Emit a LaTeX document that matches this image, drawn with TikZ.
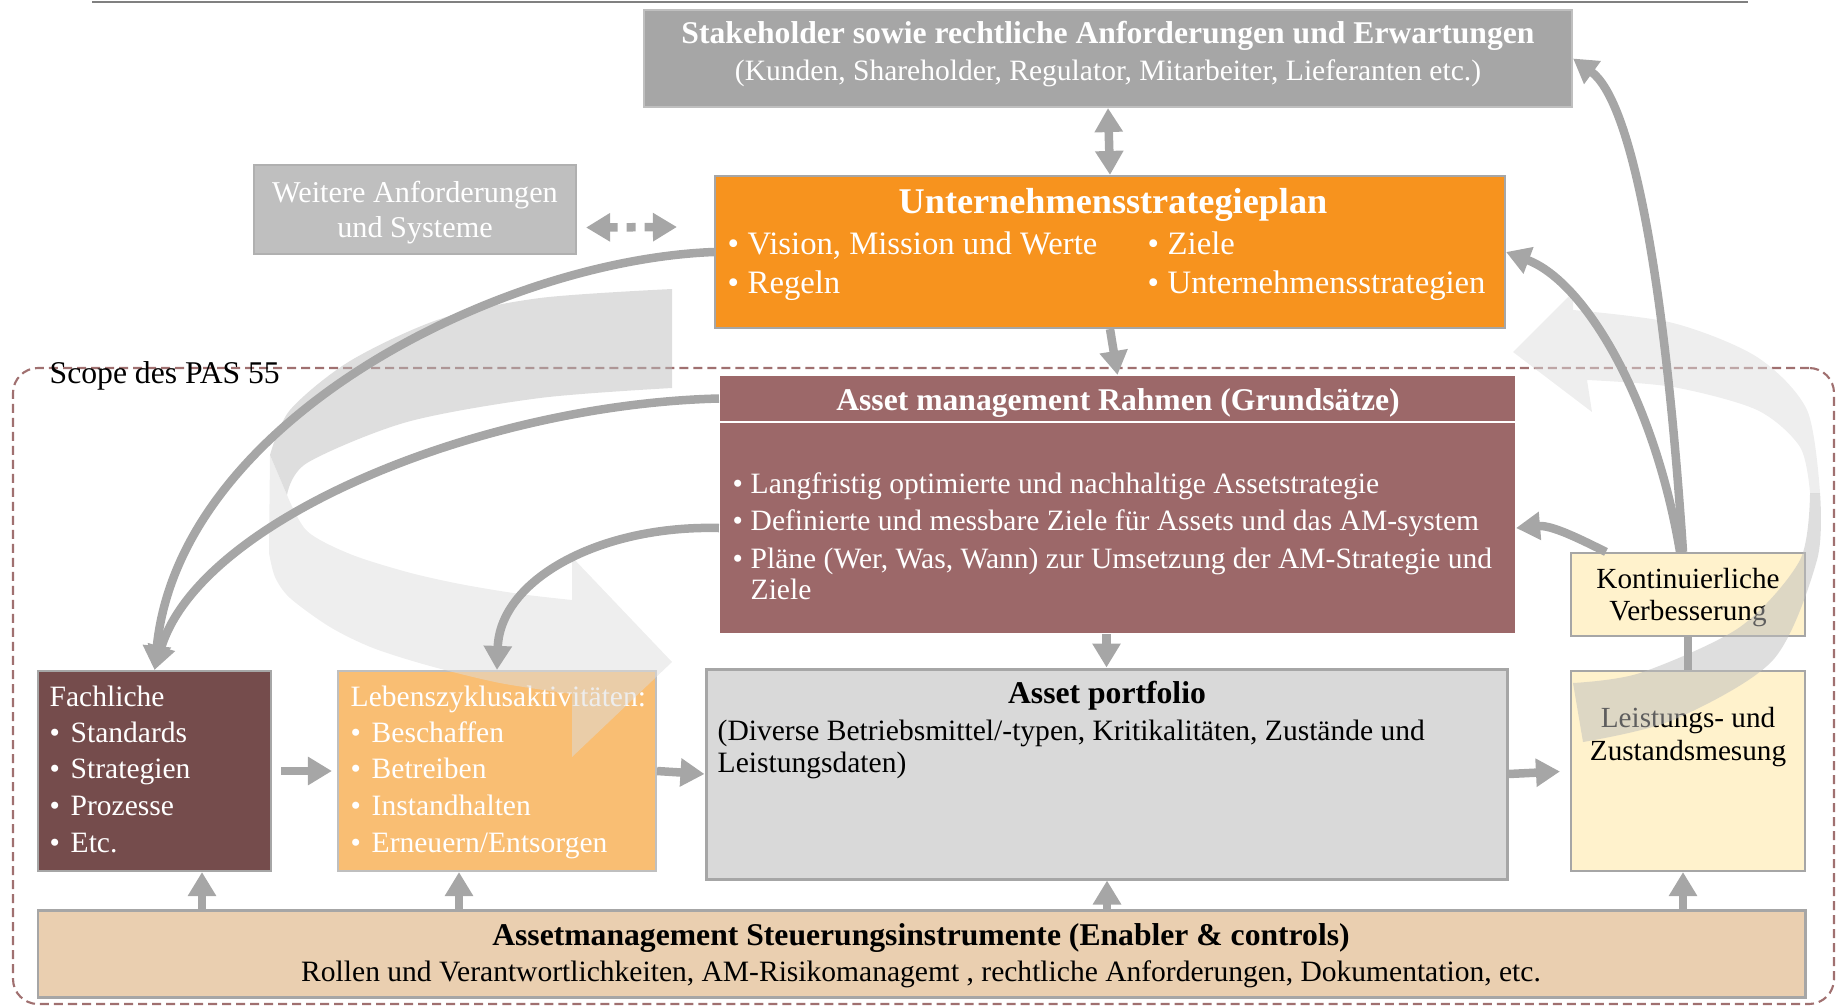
\documentclass[tikz,border=0pt]{standalone}
\usepackage{fontspec}
\setmainfont{Liberation Serif}
\usetikzlibrary{arrows.meta}
\usetikzlibrary{calc}
\usetikzlibrary{fit}

% --- Farben ---
\definecolor{lineGray}{HTML}{808080}
\definecolor{stakeGray}{HTML}{A6A6A6}
\definecolor{stakeFrame}{HTML}{BFBFBF}
\definecolor{weitGray}{HTML}{BFBFBF}
\definecolor{weitFrame}{HTML}{B0B0B0}
\definecolor{unOrange}{HTML}{F7931E}
\definecolor{amrRose}{HTML}{9C6869}
\definecolor{fachBrown}{HTML}{754C4C}
\definecolor{lebOrange}{HTML}{F9BE73}
\definecolor{lebFrame}{HTML}{BFBFBF}
\definecolor{portGray}{HTML}{D9D9D9}
\definecolor{paleYellow}{HTML}{FFF2CC}
\definecolor{steuTan}{HTML}{EACFB0}
\definecolor{frameGray}{HTML}{A6A6A6}
\definecolor{arrowGray}{HTML}{A6A6A6}
\definecolor{scopeRose}{HTML}{A07070}
\definecolor{ribbonDark}{HTML}{BDBDBD}
\definecolor{ribbonLight}{HTML}{DDDDDD}

\newcommand{\itemdot}[1][0.2cm]{\makebox[#1][l]{\textbullet}}

\begin{document}
\begin{tikzpicture}[
    x=0.01cm, y=-0.01cm,
    % --- Stile ---
    box/.style = {fill=#1, draw=frameGray, line width=0.6pt, inner sep=0pt}, % Kasten
    txt/.style = {inner sep=0pt, font=\fontsize{8.4}{10}\selectfont},      % Text
    wtxt/.style = {txt, text=white},                                         % weisser Text
    head/.style = {inner sep=0pt, font=\fontsize{9}{11}\selectfont\bfseries}, % Titel
    conn/.style = {draw=arrowGray, line width=0.085cm, -{Triangle[width=0.27cm,length=0.24cm]}}, % Pfeil
    dbl/.style = {conn, {Triangle[width=0.27cm,length=0.24cm]}-{Triangle[width=0.27cm,length=0.24cm]}},
    link/.style = {draw=arrowGray, line width=0.085cm},                    % Linie ohne Spitze
    ribbon/.style = {fill=#1, fill opacity=0.5},                           % Kreislaufband
    scopeline/.style = {draw=scopeRose, line width=0.6pt, dash pattern=on 0.09cm off 0.05cm, rounded corners=0.25cm, inner sep=0pt}
    ]
    \useasboundingbox (0,0) rectangle (1837,1006);

    % --- Linie oben ---
    \draw[lineGray, line width=0.7pt] (92,2) -- (1748,2);

    % --- Scope-Rahmen ---
    \node[scopeline, fit={(13,368) (1834,1004)}] (scope) {};
    \node[txt, font=\fontsize{9}{11}\selectfont, anchor=base west] (scopeT) at (49,383) {Scope des PAS 55};

    % --- Kaesten ---
    \node[box=stakeGray, draw=stakeFrame, fit={(644,10) (1572,107)}] (stake) {};
    \node[box=weitGray, draw=weitFrame, fit={(254,165) (576,254)}] (weit) {};
    \node[box=unOrange, fit={(715,176) (1505,328)}] (unt) {};
    \node[box=amrRose, draw=none, fit={(720,376) (1515,421)}] (amrT) {};
    \node[box=amrRose, draw=none, fit={(720,423) (1515,633)}] (amrB) {};
    \node[box=fachBrown, fit={(38,671) (271,871)}] (fach) {};
    \node[box=lebOrange, draw=lebFrame, fit={(338,671) (656,871)}] (lebens) {};
    \node[box=portGray, line width=0.85pt, fit={(706,669) (1507,879)}] (port) {};
    \node[box=paleYellow, fit={(1571,553) (1805,636)}] (kont) {};
    \node[box=paleYellow, fit={(1571,671) (1805,871)}] (leist) {};
    \node[box=steuTan, line width=0.85pt, fit={(38,910) (1805,997)}] (steu) {};

    % --- Texte ---
    \node[head, text=white, anchor=base] (stakeT) at (1108,44) {Stakeholder sowie rechtliche Anforderungen und Erwartungen};
    \node[wtxt, anchor=base] (stakeS) at (1108,80) {(Kunden, Shareholder, Regulator, Mitarbeiter, Lieferanten etc.)};

    \node[wtxt, font=\fontsize{8.6}{11}\selectfont, anchor=base] (weit1) at (415,202) {Weitere Anforderungen};
    \node[wtxt, font=\fontsize{8.6}{11}\selectfont, anchor=base] (weit2) at (415,237) {und Systeme};

    \node[head, font=\fontsize{10.3}{12}\selectfont\bfseries, text=white, anchor=base] (untT) at (1113,213) {Unternehmensstrategieplan};
    \foreach \t [count=\i] in {{Vision, Mission und Werte}, Regeln}
        \node[wtxt, font=\fontsize{9.3}{11}\selectfont, anchor=base west] (untL\i) at (727,{254+39*(\i-1)}) {\itemdot\t};
    \foreach \t [count=\i] in {Ziele, Unternehmensstrategien}
        \node[wtxt, font=\fontsize{9.3}{11}\selectfont, anchor=base west] (untR\i) at (1147,{254+39*(\i-1)}) {\itemdot\t};

    \node[head, text=white, anchor=base] (amrH) at (1118,410) {Asset management Rahmen (Grundsätze)};
    \foreach \t [count=\i] in {{Langfristig optimierte und nachhaltige Assetstrategie},
                               {Definierte und messbare Ziele für Assets und das AM-system},
                               {Pläne (Wer, Was, Wann) zur Umsetzung der AM-Strategie und}}
        \node[wtxt, anchor=base west] (amrL\i) at (732,{493+37.5*(\i-1)}) {\itemdot[0.18cm]\t};
    \node[wtxt, anchor=base west] (amrL4) at (750,599) {Ziele};

    \node[wtxt, anchor=base west] (fachT) at (49,706) {Fachliche};
    \foreach \t [count=\i] in {Standards, Strategien, Prozesse, Etc.}
        \node[wtxt, anchor=base west] (fachL\i) at (49,{742+36.7*(\i-1)}) {\itemdot[0.21cm]\t};

    \node[wtxt, anchor=base west] (lebT) at (350,706) {Lebenszyklusaktivitäten:};
    \foreach \t [count=\i] in {Beschaffen, Betreiben, Instandhalten, Erneuern/Entsorgen}
        \node[wtxt, anchor=base west] (lebL\i) at (350,{742+36.7*(\i-1)}) {\itemdot[0.21cm]\t};

    \node[head, anchor=base] (portT) at (1107,703) {Asset portfolio};
    \node[txt, anchor=base west] (portL1) at (717,740) {(Diverse Betriebsmittel/-typen, Kritikalitäten, Zustände und};
    \node[txt, anchor=base west] (portL2) at (717,772) {Leistungsdaten)};

    \node[txt, font=\fontsize{8.3}{10}\selectfont, anchor=base] (kont1) at (1688,588) {Kontinuierliche};
    \node[txt, font=\fontsize{8.3}{10}\selectfont, anchor=base] (kont2) at (1688,620) {Verbesserung};
    \node[txt, font=\fontsize{8.3}{10}\selectfont, anchor=base] (leist1) at (1688,727) {Leistungs- und};
    \node[txt, font=\fontsize{8.3}{10}\selectfont, anchor=base] (leist2) at (1688,760) {Zustandsmesung};

    \node[head, anchor=base] (steuT) at (921,945) {Assetmanagement Steuerungsinstrumente (Enabler \& controls)};
    \node[txt, anchor=base] (steuL) at (921,981) {Rollen und Verantwortlichkeiten, AM-Risikomanagemt , rechtliche Anforderungen, Dokumentation, etc.};

    % --- Kreislauf links ---
    \fill[ribbon=ribbonDark] plot[smooth] coordinates {(672,289) (540,298) (440,319) (350,361) (290,410) (270,455)}
        -- (287,495) -- plot[smooth] coordinates {(287,495) (307,463) (407,422) (540,398) (672,388)} -- cycle;
    \fill[ribbon=ribbonLight] (270,455) -- (269,553)
        -- plot[smooth] coordinates {(269,553) (275,577) (290,598) (330,627) (373,648) (430,666) (500,683) (572,694)}
        -- (572,757) -- (672,662) -- (572,557) -- (572,600)
        -- plot[smooth] coordinates {(572,600) (520,594) (460,584) (407,572) (350,554) (307,531) (287,495)} -- cycle;

    % --- Kreislauf rechts ---
    \fill[ribbon=ribbonLight] plot[smooth] coordinates {(1573,310) (1673,323) (1757,357) (1807,410) (1820,493)}
        -- (1810,493) -- plot[smooth] coordinates {(1810,493) (1800,447) (1757,410) (1673,387) (1587,380)}
        -- (1592,412) -- (1513,352) -- (1573,292) -- cycle;
    \fill[ribbon=ribbonDark] plot[smooth] coordinates {(1820,493) (1817,560) (1773,660) (1673,720) (1583,742)}
        -- (1573,683) -- plot[smooth] coordinates {(1573,683) (1640,673) (1740,627) (1800,560) (1810,493)} -- cycle;

    % --- Pfeile ---
    \draw[dbl] (stake.south) -- (unt.north);
    \draw[conn] (unt.south) -- (amrT.north);
    \draw[conn] (amrB.south -| port.north) -- (port.north);

    \coordinate (dL) at ($(weit.east)+(9,18)$);
    \coordinate (dR) at ($(unt.west)+(-37,-25)$);
    \draw[dbl, dash pattern=on 0.09cm off 0.09cm] (dL) -- (dR);

    \draw[conn, shorten <=0.09cm, shorten >=0.05cm] (fach.east) -- (lebens.west);
    \draw[conn] (lebens.east) -- (port.west);
    \draw[conn, shorten >=0.1cm] (port.east) -- (leist.west);

    \foreach \bx/\px in {fach/202, lebens/459, port/1107, leist/1683} {
        \coordinate (up\bx) at (\px,0);
        \draw[conn] (steu.north -| up\bx) -- (\bx.south -| up\bx);
    }

    \draw[link] (leist.north) -- (kont.south);
    \draw[conn] ($(kont.north)+(-5,0)$) .. controls +(-20,-300) and +(55,40) .. (stake.east);
    \draw[conn] ($(kont.north)+(-8,0)$) .. controls +(-25,-150) and +(80,30) .. (unt.east);
    \draw[conn] ($(kont.north west)+(36,0)$) .. controls +(-30,-15) and +(35,-3) .. (amrB.east);

    \draw[conn] (unt.west) .. controls +(-215,8) and +(25,-250) .. (fach.north);
    \draw[conn] (amrT.west) .. controls +(-240,6) and +(45,-150) .. (fach.north);
    \draw[conn] (amrB.west) .. controls +(-120,-3) and +(3,-90) .. (lebens.north);
\end{tikzpicture}
\end{document}
